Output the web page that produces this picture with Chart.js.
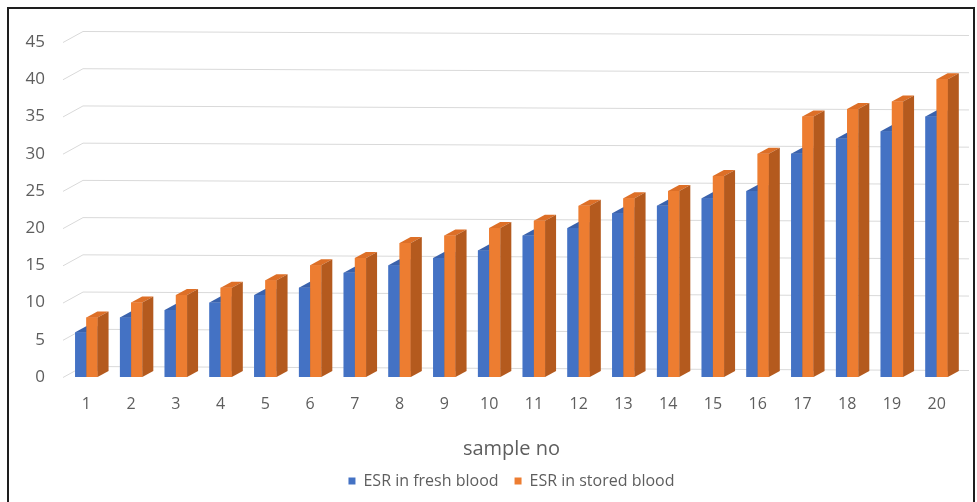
<!DOCTYPE html>
<html>
<head>
<meta charset="utf-8">
<script src="https://cdn.jsdelivr.net/npm/chart.js@4.4.1/dist/chart.umd.min.js"></script>
<style>
  html, body { margin: 0; padding: 0; background: #fff; }
  #wrap { position: relative; width: 977px; height: 502px; overflow: hidden; }
  #frame { position: absolute; left: 7px; top: 7px; width: 968px; height: 520px;
           border: 2px solid #1e1e1e; box-sizing: border-box; pointer-events: none; }
  canvas { position: absolute; left: 0; top: 0; }
</style>
</head>
<body>
<div id="wrap">
  <canvas id="chart" width="977" height="502"></canvas>
  <div id="frame"></div>
</div>
<script>
// Sample numbers along the category axis
const sampleNo = ['1','2','3','4','5','6','7','8','9','10','11','12','13','14','15','16','17','18','19','20'];
// ESR readings (mm/hr)
const esrFresh  = [6, 8, 9, 10, 11, 12, 14, 15, 16, 17, 19, 20, 22, 23, 24, 25, 30, 32, 33, 35];
const esrStored = [8, 10, 11, 12, 13, 15, 16, 18, 19, 20, 21, 23, 24, 25, 27, 30, 35, 36, 37, 40];
// Value axis
const yMin = 0, yMax = 45, yStep = 5;

const FONT = '"Open Sans", "DejaVu Sans", sans-serif';
const TEXT = '#5e5e5e';

// Face shading for the extruded columns
const faces = [
  { front: '#4472C4', top: '#3A62AC', side: '#2F528F' },
  { front: '#ED7D31', top: '#DD6F27', side: '#B45A1E' }
];
const barDepth  = { dx: 11, dy: -6 };           // column extrusion
const wallDepth = { dx: 19, dy: -11, tilt: 4 }; // back wall offset for gridlines

const pseudo3d = {
  id: 'pseudo3d',
  beforeDatasetsDraw(chart) {
    const { ctx, chartArea: a, scales: { y } } = chart;
    ctx.save();
    ctx.strokeStyle = '#d9d9d9';
    ctx.lineWidth = 1;
    y.ticks.forEach(t => {
      const py = y.getPixelForValue(t.value);
      ctx.beginPath();
      ctx.moveTo(a.left - 1, py + 0.5);
      ctx.lineTo(a.left + wallDepth.dx, py + wallDepth.dy + 0.5);
      ctx.lineTo(a.right + 10, py + wallDepth.dy + wallDepth.tilt + 0.5);
      ctx.stroke();
    });
    ctx.restore();
  },
  afterDatasetsDraw(chart) {
    const { ctx } = chart;
    const metas = chart.data.datasets.map((d, i) => chart.getDatasetMeta(i));
    const n = chart.data.labels.length;
    const { dx, dy } = barDepth;
    ctx.save();
    for (let i = 0; i < n; i++) {
      metas.forEach((m, di) => {
        const el = m.data[i];
        const { x, y, base, width } = el.getProps(['x', 'y', 'base', 'width'], true);
        const l = x - width / 2, r = x + width / 2;
        const c = faces[di];
        // front
        ctx.fillStyle = c.front;
        ctx.fillRect(l, y, width, base - y);
        // top
        ctx.fillStyle = c.top;
        ctx.beginPath();
        ctx.moveTo(l, y); ctx.lineTo(r, y);
        ctx.lineTo(r + dx, y + dy); ctx.lineTo(l + dx, y + dy);
        ctx.closePath(); ctx.fill();
        // right side
        ctx.fillStyle = c.side;
        ctx.beginPath();
        ctx.moveTo(r, y); ctx.lineTo(r + dx, y + dy);
        ctx.lineTo(r + dx, base + dy); ctx.lineTo(r, base);
        ctx.closePath(); ctx.fill();
      });
    }
    ctx.restore();
  }
};

new Chart(document.getElementById('chart'), {
  type: 'bar',
  data: {
    labels: sampleNo,
    datasets: [
      { label: 'ESR in fresh blood',  data: esrFresh,  backgroundColor: faces[0].front, borderWidth: 0 },
      { label: 'ESR in stored blood', data: esrStored, backgroundColor: faces[1].front, borderWidth: 0 }
    ]
  },
  options: {
    responsive: false,
    devicePixelRatio: 1,
    animation: false,
    layout: { padding: { left: 25, right: 18, top: 42, bottom: 3 } },
    datasets: { bar: { categoryPercentage: 0.5, barPercentage: 1 } },
    scales: {
      x: {
        grid: { display: false, drawTicks: false },
        border: { display: false },
        ticks: { color: TEXT, font: { family: FONT, size: 16 }, padding: 18, maxRotation: 0 },
        title: { display: true, text: 'sample no', color: TEXT,
                 font: { family: FONT, size: 20 }, padding: { top: 0, bottom: -4 } },
        afterFit(scale) { scale.height = 80; }
      },
      y: {
        min: yMin, max: yMax,
        grid: { display: false, drawTicks: false },
        border: { display: false },
        ticks: { stepSize: yStep, color: TEXT, font: { family: FONT, size: 17 }, padding: 19 },
        afterFit(scale) { scale.width = 39; }
      }
    },
    plugins: {
      legend: {
        position: 'bottom',
        fullSize: false,
        labels: { color: TEXT, font: { family: FONT, size: 16 }, boxWidth: 7, boxHeight: 7, padding: 16 }
      },
      tooltip: { enabled: false }
    }
  },
  plugins: [pseudo3d]
});
</script>
</body>
</html>
